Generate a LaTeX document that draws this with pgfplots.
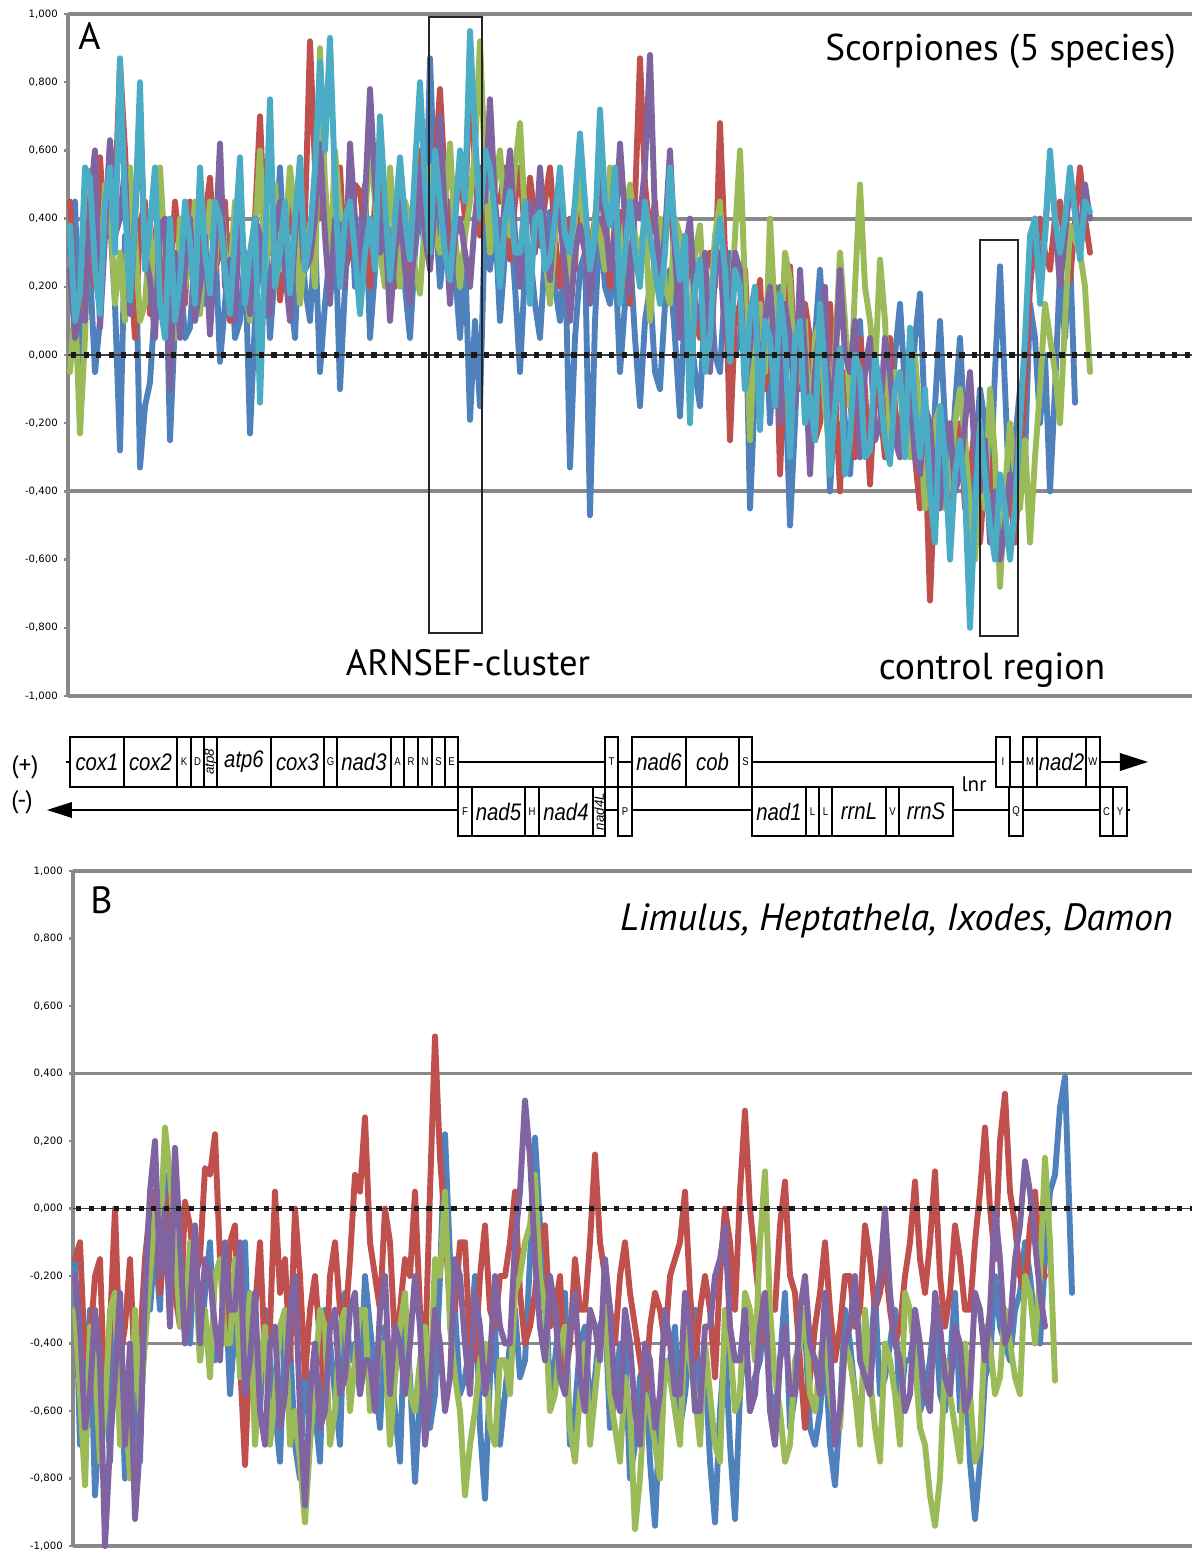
\documentclass[border=0pt]{standalone}
\usepackage{fontspec}
\usepackage{graphicx}
\usepackage{pgfplots}
\usepackage{pgfplotstable}
\pgfplotsset{compat=1.18}
\setmainfont{PT Sans}
\newfontfamily\tickfont{DejaVu Sans}
\newfontfamily\helv{Liberation Sans}

\definecolor{sblue}{HTML}{4F81BD}
\definecolor{sred}{HTML}{C0504D}
\definecolor{sgreen}{HTML}{9BBB59}
\definecolor{spurple}{HTML}{8064A2}
\definecolor{scyan}{HTML}{4BACC6}
\definecolor{gridgray}{HTML}{898989}

% panel A: Scorpiones, x in picture units
\pgfplotstableread{
x b r g p c
70 0.30 0.45 -0.05 0.25 0.38
75 0.45 0.10 0.15 0.05 0.10
80 -0.02 0.15 -0.23 0.12 0.18
85 0.40 0.50 0.05 0.10 0.55
90 0.25 0.35 0.54 0.45 0.52
95 -0.05 0.20 0.30 0.60 0.25
100 0.10 0.58 0.20 0.08 0.12
105 0.45 0.35 0.50 0.35 0.45
110 0.40 0.62 0.45 0.63 0.55
115 0.15 0.45 0.15 0.35 0.30
120 -0.28 0.86 0.30 0.40 0.87
125 0.35 0.60 0.10 0.55 0.45
130 0.20 0.28 0.55 0.12 0.16
135 0.45 0.05 0.35 0.40 0.40
140 -0.33 0.38 0.10 0.70 0.80
145 -0.15 0.45 0.15 0.30 0.25
150 -0.08 0.12 0.36 0.22 0.38
155 0.15 0.35 0.20 0.05 0.55
160 0.30 0.44 0.55 0.38 0.15
165 0.40 0.15 0.30 0.40 0.05
170 -0.25 0.20 0.18 -0.10 0.40
175 0.10 0.45 0.05 0.30 0.10
180 0.25 0.30 0.40 0.05 0.22
185 0.05 0.15 0.20 0.25 0.45
190 0.08 0.45 0.28 0.40 0.33
195 0.30 0.30 0.45 0.10 0.15
200 0.45 0.18 0.12 0.20 0.55
205 0.15 0.40 0.30 0.35 0.30
210 0.20 0.52 0.45 0.06 0.18
215 0.35 0.25 0.25 0.30 0.45
220 -0.02 0.30 0.52 0.62 0.40
225 0.15 0.45 0.30 0.20 0.25
230 0.35 0.10 0.22 0.28 0.12
235 0.05 0.35 0.45 0.10 0.35
240 0.10 0.46 0.40 0.44 0.58
245 0.30 0.20 0.20 0.25 0.15
250 -0.23 0.22 0.10 0.12 0.30
255 0.10 0.40 0.35 0.40 0.40
260 0.30 0.70 0.60 0.35 -0.14
265 0.40 0.35 0.25 0.20 0.30
270 0.05 0.30 0.35 0.12 0.75
275 0.25 0.45 0.50 0.35 0.20
280 0.55 0.16 0.25 0.45 0.30
285 0.25 0.30 0.35 0.25 0.45
290 0.20 0.45 0.55 0.10 0.18
295 0.05 0.30 0.40 0.35 0.40
300 0.40 0.20 0.15 0.55 0.58
305 0.20 0.40 0.30 0.25 0.25
310 0.10 0.92 0.38 0.28 0.35
315 0.35 0.55 0.20 0.40 0.55
320 -0.05 0.40 0.90 0.62 0.86
325 0.15 0.50 0.50 0.35 0.60
330 0.30 0.22 0.25 0.15 0.93
335 0.40 0.40 0.60 0.40 0.50
340 -0.10 0.55 0.42 0.38 0.20
345 0.20 0.25 0.25 0.20 0.40
350 0.55 0.30 0.58 0.62 0.45
355 0.20 0.50 0.35 0.40 0.30
360 0.35 0.48 0.14 0.20 0.12
365 0.50 0.35 0.40 0.45 0.30
370 0.05 0.20 0.62 0.78 0.40
375 0.25 0.45 0.45 0.50 0.25
380 0.50 0.62 0.30 0.30 0.70
385 0.30 0.40 0.20 0.40 0.45
390 0.18 0.35 0.55 0.10 0.22
395 0.40 0.20 0.35 0.30 0.40
400 0.42 0.50 0.20 0.45 0.58
405 0.20 0.35 0.45 0.25 0.40
410 0.05 0.22 0.40 0.15 0.28
415 0.30 0.40 0.25 0.35 0.55
420 0.45 0.60 0.18 0.55 0.80
425 0.30 0.35 0.40 0.35 0.50
430 0.87 0.40 0.55 0.25 0.30
435 0.45 0.55 0.35 0.45 0.60
440 0.20 0.78 0.30 0.70 0.45
445 0.35 0.50 0.45 0.40 0.30
450 0.45 0.25 0.62 0.15 0.22
455 0.25 0.40 0.35 0.35 0.40
460 0.05 0.55 0.20 0.40 0.60
465 0.30 0.40 0.35 0.30 0.45
470 -0.19 0.85 0.45 0.20 0.95
475 0.10 0.55 0.60 0.40 0.65
480 -0.15 0.35 0.92 0.55 0.40
485 0.40 0.50 0.55 0.45 0.60
490 0.25 0.65 0.30 0.75 0.55
495 0.40 0.45 0.50 0.45 0.40
500 0.10 0.45 0.60 0.30 0.20
505 0.30 0.55 0.40 0.45 0.40
510 0.40 0.28 0.35 0.60 0.48
515 0.20 0.45 0.55 0.35 0.30
520 -0.05 0.55 0.68 0.20 0.30
525 0.25 0.35 0.40 0.40 0.45
530 0.30 0.52 0.20 0.45 0.15
535 0.15 0.40 0.40 0.30 0.40
540 0.05 0.32 0.45 0.55 0.42
545 0.30 0.45 0.30 0.35 0.25
550 0.42 0.55 0.15 0.22 0.28
555 0.20 0.35 0.35 0.45 0.40
560 0.10 0.20 0.48 0.40 0.55
565 0.30 0.35 0.30 0.25 0.35
570 -0.33 0.40 0.22 0.10 0.30
575 0.05 0.25 0.40 0.30 0.45
580 0.25 0.62 0.52 0.38 0.65
585 0.30 0.40 0.30 0.30 0.45
590 -0.47 0.30 0.18 0.15 0.25
595 0.10 0.40 0.40 0.35 0.35
600 0.40 0.55 0.35 0.55 0.72
605 0.20 0.35 0.25 0.40 0.45
610 0.15 0.20 0.55 0.25 0.38
615 0.30 0.40 0.35 0.35 0.55
620 -0.05 0.42 0.25 0.62 0.15
625 0.15 0.30 0.40 0.40 0.30
630 0.30 0.15 0.50 0.18 0.45
635 0.05 0.45 0.35 0.45 0.30
640 -0.15 0.87 0.30 0.40 0.20
645 0.10 0.50 0.40 0.55 0.45
650 0.20 0.35 0.10 0.88 0.35
655 -0.05 0.45 0.30 0.40 0.25
660 -0.10 0.20 0.40 0.22 0.15
665 0.15 0.35 0.20 0.35 0.30
670 0.25 0.48 0.15 0.60 0.55
675 0.05 0.25 0.40 0.30 0.35
680 -0.18 0.10 0.35 0.05 0.22
685 0.15 0.35 0.15 0.30 0.35
690 0.10 0.32 0.05 0.40 -0.20
695 -0.05 0.10 0.30 0.15 0.20
700 -0.15 0.05 0.38 0.10 0.28
705 0.15 0.25 0.10 0.30 -0.05
710 0.22 0.30 0.12 -0.05 0.05
715 0.00 0.20 0.35 0.25 0.30
720 -0.05 0.68 0.45 0.30 0.40
725 0.20 0.30 0.15 0.05 0.25
730 0.30 -0.25 0.08 0.12 -0.02
735 0.00 0.10 0.35 0.30 0.25
740 0.05 0.15 0.60 0.25 0.20
745 0.25 0.25 0.20 -0.10 -0.10
750 -0.45 -0.05 -0.25 0.02 0.12
755 -0.10 0.10 0.10 0.20 0.20
760 0.05 0.22 0.15 -0.15 -0.22
765 0.15 -0.10 -0.05 0.10 0.10
770 -0.20 0.00 0.40 0.20 0.05
775 0.05 0.20 0.10 0.00 -0.15
780 0.20 -0.35 -0.05 -0.20 0.18
785 -0.05 0.00 0.30 0.15 0.05
790 -0.50 0.26 0.22 0.05 -0.30
795 -0.20 0.00 -0.10 -0.15 0.05
800 0.15 -0.10 -0.05 0.25 0.10
805 -0.05 0.15 0.10 0.00 -0.20
810 -0.22 0.05 -0.28 -0.35 -0.12
815 0.05 -0.25 0.05 -0.05 -0.25
820 0.25 -0.20 0.10 0.08 0.15
825 0.00 0.05 -0.15 0.20 -0.05
830 -0.40 0.15 -0.30 -0.25 -0.35
835 -0.15 -0.10 0.00 -0.05 -0.15
840 0.00 -0.40 0.30 0.25 0.02
845 -0.20 -0.05 0.10 0.00 -0.35
850 -0.35 -0.12 -0.15 -0.05 -0.25
855 -0.10 -0.30 0.20 0.10 0.00
860 0.10 0.05 0.50 -0.30 -0.05
865 -0.20 -0.10 0.20 -0.05 -0.30
870 -0.30 -0.38 0.10 0.05 -0.28
875 -0.10 -0.10 -0.05 -0.25 0.00
880 -0.05 -0.15 0.28 -0.20 -0.10
885 -0.30 -0.30 0.10 0.05 -0.25
890 -0.25 0.05 -0.25 -0.05 -0.32
895 0.00 -0.15 -0.05 -0.25 -0.10
900 0.15 -0.30 -0.10 -0.30 -0.05
905 -0.10 -0.05 -0.25 -0.05 -0.30
910 -0.20 -0.10 -0.30 -0.12 0.08
915 0.05 -0.30 0.00 -0.30 -0.15
920 0.18 -0.45 -0.20 -0.35 -0.30
925 -0.20 -0.25 -0.45 -0.15 -0.10
930 -0.55 -0.72 -0.40 -0.20 -0.40
935 -0.15 -0.35 -0.20 -0.40 -0.55
940 0.10 -0.25 -0.15 -0.45 -0.15
945 -0.20 -0.40 -0.45 -0.25 -0.30
950 -0.40 -0.50 -0.35 -0.20 -0.60
955 -0.15 -0.30 -0.20 -0.40 -0.35
960 0.05 -0.20 -0.10 -0.35 -0.25
965 -0.25 -0.45 -0.25 -0.20 -0.40
970 -0.60 -0.35 -0.45 -0.05 -0.80
975 -0.30 -0.20 -0.60 -0.30 -0.45
980 -0.10 -0.55 -0.30 -0.40 -0.20
985 -0.20 -0.35 -0.45 -0.25 -0.35
990 -0.40 -0.30 -0.10 -0.55 -0.50
995 -0.05 -0.45 -0.30 -0.40 -0.60
1000 0.26 -0.62 -0.68 -0.60 -0.35
1005 -0.10 -0.50 -0.40 -0.50 -0.45
1010 -0.45 -0.40 -0.20 -0.35 -0.60
1015 -0.25 -0.55 -0.35 -0.40 -0.45
1020 -0.10 -0.30 -0.45 -0.15 -0.20
1025 -0.30 -0.10 -0.25 0.00 0.05
1030 0.15 0.20 -0.55 0.30 0.35
1035 0.05 0.35 -0.30 0.40 0.40
1040 -0.20 0.40 -0.10 0.25 0.15
1045 0.00 0.30 0.15 0.35 0.35
1050 -0.40 0.25 0.05 0.58 0.60
1055 -0.10 0.40 -0.05 0.40 0.40
1060 0.25 0.45 -0.20 0.20 0.30
1065 0.05 0.30 0.10 0.35 0.40
1070 0.30 0.22 0.38 0.50 0.55
1075 -0.14 nan nan nan nan
1080 nan 0.55 0.30 0.35 0.28
1085 nan 0.40 0.20 0.50 0.45
1090 nan 0.30 -0.05 0.40 0.42
}\scorp

% panel B: Limulus, Heptathela, Ixodes, Damon
\pgfplotstableread{
x b r g p
75 -0.15 -0.15 -0.30 -0.20
80 -0.70 -0.10 -0.55 -0.35
85 -0.55 -0.45 -0.82 -0.65
90 -0.30 -0.40 -0.35 -0.55
95 -0.85 -0.20 -0.45 -0.30
100 -0.60 -0.15 -0.75 -0.45
105 -0.40 -0.60 -0.60 -1.00
110 -0.75 -0.35 -0.30 -0.70
115 -0.30 0.00 -0.25 -0.50
120 -0.35 -0.45 -0.70 -0.25
125 -0.80 -0.35 -0.55 -0.70
130 -0.70 -0.15 -0.80 -0.40
135 -0.55 -0.50 -0.30 -0.92
140 -0.75 -0.40 -0.60 -0.70
145 -0.25 -0.15 -0.40 -0.25
150 -0.30 0.00 -0.20 0.05
155 -0.10 0.05 0.00 0.20
160 -0.30 -0.25 -0.10 -0.20
165 0.10 -0.10 0.24 0.00
170 -0.20 0.05 0.10 -0.35
175 -0.15 -0.25 -0.10 0.18
180 0.00 -0.35 -0.35 -0.10
185 -0.30 0.02 -0.35 -0.40
190 -0.40 -0.05 -0.10 -0.30
195 -0.10 -0.20 -0.15 -0.05
200 -0.45 -0.15 -0.45 -0.40
205 -0.25 0.12 -0.30 -0.15
210 -0.10 0.10 -0.50 -0.20
215 -0.45 0.22 -0.20 -0.35
220 -0.40 -0.15 -0.15 -0.45
225 -0.20 -0.35 -0.40 -0.10
230 -0.55 -0.10 -0.40 -0.30
235 -0.35 -0.05 -0.15 -0.30
240 -0.15 -0.45 -0.50 -0.10
245 -0.10 -0.76 -0.45 -0.55
250 -0.55 -0.40 -0.25 -0.45
255 -0.50 -0.30 -0.70 -0.25
260 -0.60 -0.10 -0.50 -0.60
265 -0.30 -0.45 -0.35 -0.70
270 -0.45 -0.35 -0.70 -0.40
275 -0.60 0.05 -0.55 -0.35
280 -0.75 -0.25 -0.35 -0.65
285 -0.35 -0.15 -0.30 -0.55
290 -0.40 -0.45 -0.70 -0.30
295 -0.70 0.00 -0.60 -0.20
300 -0.80 -0.20 -0.75 -0.60
305 -0.45 -0.50 -0.93 -0.88
310 -0.65 -0.30 -0.70 -0.55
315 -0.60 -0.20 -0.50 -0.40
320 -0.75 -0.40 -0.30 -0.65
325 -0.30 -0.55 -0.35 -0.60
330 -0.40 -0.20 -0.70 -0.35
335 -0.55 -0.10 -0.60 -0.30
340 -0.70 -0.30 -0.35 -0.55
345 -0.25 -0.35 -0.30 -0.50
350 -0.45 -0.15 -0.60 -0.30
355 -0.40 0.10 -0.45 -0.25
360 -0.55 0.05 -0.30 -0.55
365 -0.20 0.27 -0.30 -0.45
370 -0.35 -0.10 -0.60 -0.45
375 -0.50 -0.20 -0.55 -0.60
380 -0.65 -0.30 -0.40 -0.30
385 -0.35 0.00 -0.40 -0.20
390 -0.45 -0.10 -0.70 -0.55
395 -0.60 -0.40 -0.50 -0.35
400 -0.75 -0.30 -0.35 -0.40
405 -0.30 -0.15 -0.25 -0.55
410 -0.50 -0.20 -0.55 -0.40
415 -0.81 0.05 -0.60 -0.20
420 -0.55 -0.30 -0.45 -0.35
425 -0.40 -0.45 -0.35 -0.70
430 -0.65 0.05 -0.55 -0.55
435 -0.55 0.51 -0.15 -0.30
440 -0.20 0.15 -0.20 -0.40
445 0.22 -0.05 0.05 -0.60
450 -0.15 -0.30 -0.35 -0.50
455 -0.30 -0.30 -0.50 -0.15
460 -0.55 -0.10 -0.60 -0.20
465 -0.50 -0.10 -0.85 -0.40
470 -0.40 -0.40 -0.70 -0.55
475 -0.20 -0.45 -0.60 -0.25
480 -0.65 -0.20 -0.45 -0.35
485 -0.86 -0.05 -0.40 -0.55
490 -0.50 -0.30 -0.65 -0.45
495 -0.35 -0.35 -0.70 -0.20
500 -0.70 -0.20 -0.45 -0.35
505 -0.55 -0.20 -0.45 -0.40
510 -0.40 -0.10 -0.55 -0.40
515 -0.30 0.05 -0.25 -0.10
520 -0.50 -0.25 -0.20 0.05
525 -0.45 -0.40 -0.10 0.32
530 -0.15 -0.35 -0.05 0.15
535 0.21 -0.25 0.10 -0.15
540 -0.05 -0.10 -0.20 -0.35
545 -0.20 -0.05 -0.30 -0.45
550 -0.55 -0.35 -0.60 -0.20
555 -0.45 -0.30 -0.55 -0.30
560 -0.30 -0.20 -0.40 -0.50
565 -0.25 -0.50 -0.35 -0.55
570 -0.70 -0.40 -0.65 -0.35
575 -0.60 -0.15 -0.75 -0.25
580 -0.40 -0.30 -0.55 -0.50
585 -0.35 -0.30 -0.40 -0.60
590 -0.60 -0.10 -0.70 -0.30
595 -0.50 0.16 -0.55 -0.35
600 -0.35 -0.10 -0.40 -0.45
605 -0.30 -0.20 -0.30 -0.15
610 -0.65 -0.30 -0.55 -0.30
615 -0.55 -0.40 -0.65 -0.55
620 -0.40 -0.20 -0.75 -0.60
625 -0.40 -0.10 -0.50 -0.30
630 -0.80 -0.25 -0.60 -0.40
635 -0.70 -0.35 -0.95 -0.60
640 -0.50 -0.45 -0.80 -0.70
645 -0.45 -0.55 -0.55 -0.40
650 -0.75 -0.35 -0.60 -0.45
655 -0.94 -0.25 -0.70 -0.65
660 -0.60 -0.30 -0.80 -0.55
665 -0.50 -0.40 -0.45 -0.30
670 -0.45 -0.20 -0.50 -0.40
675 -0.35 -0.15 -0.60 -0.55
680 -0.65 -0.10 -0.70 -0.55
685 -0.55 0.05 -0.35 -0.25
690 -0.40 -0.25 -0.45 -0.35
695 -0.30 -0.45 -0.55 -0.60
700 -0.60 -0.30 -0.70 -0.60
705 -0.45 -0.20 -0.40 -0.35
710 -0.75 -0.30 -0.55 -0.35
715 -0.93 -0.50 -0.70 -0.20
720 -0.60 -0.20 -0.75 -0.15
725 -0.40 0.00 -0.30 -0.05
730 -0.70 -0.10 -0.40 -0.35
735 -0.92 -0.30 -0.60 -0.45
740 -0.55 0.05 -0.55 -0.45
745 -0.35 0.29 -0.25 -0.30
750 -0.60 0.00 -0.30 -0.60
755 -0.50 -0.15 -0.45 -0.55
760 -0.45 -0.30 -0.10 -0.35
765 -0.30 -0.40 0.11 -0.25
770 -0.55 -0.30 -0.30 -0.60
775 -0.60 -0.30 -0.50 -0.70
780 -0.45 -0.05 -0.60 -0.45
785 -0.25 0.08 -0.75 -0.35
790 -0.65 -0.20 -0.70 -0.55
795 -0.55 -0.25 -0.45 -0.55
800 -0.40 -0.45 -0.40 -0.30
805 -0.35 -0.65 -0.30 -0.20
810 -0.65 -0.50 -0.55 -0.40
815 -0.70 -0.35 -0.60 -0.45
820 -0.60 -0.25 -0.45 -0.55
825 -0.40 -0.10 -0.35 -0.25
830 -0.70 -0.30 -0.55 -0.40
835 -0.82 -0.45 -0.65 -0.70
840 -0.60 -0.35 -0.65 -0.60
845 -0.30 -0.20 -0.40 -0.40
850 -0.40 -0.20 -0.45 -0.35
855 -0.55 -0.35 -0.55 -0.20
860 -0.65 -0.30 -0.70 -0.45
865 -0.40 -0.05 -0.30 -0.50
870 -0.45 -0.15 -0.50 -0.55
875 -0.25 -0.30 -0.65 -0.30
880 -0.55 -0.25 -0.75 -0.20
885 -0.50 -0.15 -0.40 0.00
890 -0.40 -0.30 -0.45 -0.25
895 -0.30 -0.40 -0.55 -0.40
900 -0.60 -0.35 -0.70 -0.45
905 -0.45 -0.20 -0.25 -0.60
910 -0.45 -0.10 -0.30 -0.55
915 -0.35 0.08 -0.45 -0.30
920 -0.60 -0.15 -0.65 -0.40
925 -0.55 -0.25 -0.70 -0.55
930 -0.45 -0.10 -0.85 -0.60
935 -0.30 0.11 -0.94 -0.25
940 -0.55 -0.20 -0.80 -0.35
945 -0.60 -0.35 -0.45 -0.50
950 -0.45 -0.25 -0.55 -0.55
955 -0.25 -0.05 -0.65 -0.35
960 -0.60 -0.15 -0.75 -0.40
965 -0.45 -0.30 -0.40 -0.60
970 -0.75 -0.30 -0.55 -0.55
975 -0.92 -0.10 -0.75 -0.25
980 -0.75 0.05 -0.70 -0.30
985 -0.50 0.24 -0.35 -0.45
990 -0.45 0.00 -0.40 -0.30
995 -0.20 -0.15 -0.55 0.00
1000 -0.35 0.20 -0.50 -0.15
1005 -0.40 0.34 -0.30 -0.40
1010 -0.45 0.05 -0.40 -0.35
1015 -0.30 -0.05 -0.50 -0.15
1020 -0.25 -0.20 -0.55 -0.05
1025 -0.10 -0.25 -0.20 0.14
1030 -0.20 -0.05 -0.25 0.05
1035 -0.35 0.05 -0.40 -0.10
1040 -0.40 -0.15 -0.20 -0.25
1045 -0.15 -0.20 0.15 -0.35
1050 0.05 nan -0.10 nan
1055 0.10 nan -0.51 nan
1060 0.30 nan nan nan
1065 0.39 nan nan nan
1072 -0.25 nan nan nan
}\others

\pgfplotsset{
  panel/.style={
    scale only axis, clip=false,
    xmax=1192, ymin=-1, ymax=1,
    axis line style={draw=none},
    xtick=\empty,
    ytick={-1,-0.8,-0.6,-0.4,-0.2,0,0.2,0.4,0.6,0.8,1},
    yticklabels={{-1,000},{-0,800},{-0,600},{-0,400},{-0,200},{0,000},{0,200},{0,400},{0,600},{0,800},{1,000}},
    ytick pos=left, tick align=outside,
    major tick length=1mm,
    tick style={gridgray, line width=1.8pt},
    yticklabel style={font=\tickfont\fontsize{7.2}{7.5}\selectfont, inner sep=0pt, xshift=-1.5mm},
  },
  ser/.style={line width=4.2pt, line join=round, line cap=round, #1},
}
\tikzset{grid line/.style={gridgray, line width=2.8pt}}

\newcommand\gbig[1]{{\helv\itshape\fontsize{17}{17}\selectfont\scalebox{0.85}[1]{#1}}}
\newcommand\gsm[1]{{\helv\fontsize{8}{8}\selectfont\scalebox{0.85}[1]{#1}}}
\newcommand\grot[1]{\rotatebox{90}{\helv\itshape\fontsize{9.5}{9.5}\selectfont #1}}
\newcommand\gene[5]{\draw[line width=1.4pt, fill=white] (#1,#3) rectangle (#2,#4);
  \node[inner sep=0pt] at ({(#1+#2)/2},{(#3+#4)/2}) {#5};}

\begin{document}
\begin{tikzpicture}
\path[use as bounding box] (0,0) rectangle (298mm,-387.75mm);

% ---------- panel A ----------
\begin{axis}[panel, at={(17mm,-174mm)}, anchor=south west,
  width=281mm, height=170.5mm, xmin=68]
\draw[grid line] (axis cs:68,1) -- (axis cs:1192,1);
\draw[grid line] (axis cs:68,0.4) -- (axis cs:1192,0.4);
\draw[grid line] (axis cs:68,-0.4) -- (axis cs:1192,-0.4);
\draw[grid line] (axis cs:68,-1) -- (axis cs:1192,-1);
\draw[grid line] (axis cs:68,-1) -- (axis cs:68,1);

\addplot[ser=sblue] table[x=x, y=b] {\scorp};
\addplot[ser=sred] table[x=x, y=r] {\scorp};
\addplot[ser=sgreen] table[x=x, y=g] {\scorp};
\addplot[ser=spurple] table[x=x, y=p] {\scorp};
\addplot[ser=scyan] table[x=x, y=c] {\scorp};

\draw[black!75, line width=1pt] (axis cs:68,0) -- (axis cs:1192,0);
\draw[black!90, line width=3.8pt, dash pattern=on 3.8pt off 5.1pt] (axis cs:71,0) -- (axis cs:1192,0);

\draw[black!85, line width=1.8pt] (axis cs:429,0.991) rectangle (axis cs:482,-0.815);
\draw[black!85, line width=1.8pt] (axis cs:980,0.337) rectangle (axis cs:1018,-0.824);

\node[anchor=base west, inner sep=0pt, font=\fontsize{27}{27}\selectfont] at (axis cs:78,0.897) {A};
\node[anchor=base east, inner sep=0pt, font=\fontsize{26.5}{26.5}\selectfont] at (axis cs:1176,0.865) {Scorpiones (5 species)};
\node[anchor=base, inner sep=0pt, font=\fontsize{26}{26}\selectfont] at (axis cs:468,-0.941) {ARNSEF-cluster};
\node[anchor=base, inner sep=0pt, font=\fontsize{26.8}{26.8}\selectfont] at (axis cs:992,-0.953) {control region};
\end{axis}

% ---------- gene map ----------
\begin{scope}[x=0.25mm, y=-0.25mm]
\draw[line width=1.7pt] (66,762) -- (1122,762);
\fill (1120,753) -- (1148,762) -- (1120,771) -- cycle;
\draw[line width=1.7pt] (70,810) -- (1130,810);
\fill (72,802) -- (47,810) -- (72,818) -- cycle;

\gene{70}{124}{737}{787}{\gbig{cox1}}
\gene{124}{177}{737}{787}{\gbig{cox2}}
\gene{177}{191}{737}{787}{\gsm{K}}
\gene{191}{204}{737}{787}{\gsm{D}}
\gene{204}{217}{737}{787}{\grot{atp8}}
\gene{217}{271}{737}{787}{\gbig{atp6}}
\gene{271}{324}{737}{787}{\gbig{cox3}}
\gene{324}{337}{737}{787}{\gsm{G}}
\gene{337}{391}{737}{787}{\gbig{nad3}}
\gene{391}{404}{737}{787}{\gsm{A}}
\gene{404}{418}{737}{787}{\gsm{R}}
\gene{418}{432}{737}{787}{\gsm{N}}
\gene{432}{445}{737}{787}{\gsm{S}}
\gene{445}{458}{737}{787}{\gsm{E}}
\gene{605}{618}{737}{787}{\gsm{T}}
\gene{632}{686}{737}{787}{\gbig{nad6}}
\gene{686}{739}{737}{787}{\gbig{cob}}
\gene{739}{752}{737}{787}{\gsm{S}}
\gene{996}{1010}{737}{787}{\gsm{I}}
\gene{1023}{1037}{737}{787}{\gsm{M}}
\gene{1037}{1086}{737}{787}{\gbig{nad2}}
\gene{1086}{1100}{737}{787}{\gsm{W}}

\gene{458}{472}{787}{836}{\gsm{F}}
\gene{472}{525}{787}{836}{\gbig{nad5}}
\gene{525}{539}{787}{836}{\gsm{H}}
\gene{539}{593}{787}{836}{\gbig{nad4}}
\gene{593}{605}{787}{836}{\grot{nad4L}}
\gene{618}{632}{787}{836}{\gsm{P}}
\gene{752}{806}{787}{836}{\gbig{nad1}}
\gene{806}{819}{787}{836}{\gsm{L}}
\gene{819}{832}{787}{836}{\gsm{L}}
\gene{832}{886}{787}{836}{\gbig{rrnL}}
\gene{886}{899}{787}{836}{\gsm{V}}
\gene{899}{953}{787}{836}{\gbig{rrnS}}
\gene{1009}{1023}{787}{836}{\gsm{Q}}
\gene{1100}{1113}{787}{836}{\gsm{C}}
\gene{1113}{1127}{787}{836}{\gsm{Y}}

\node[font=\fontsize{18}{18}\selectfont] at (25,767) {(+)};
\node[font=\fontsize{18}{18}\selectfont] at (22,802) {(-)};
\node[font=\fontsize{15}{15}\selectfont] at (974,784) {lnr};
\end{scope}

% ---------- panel B ----------
\begin{axis}[panel, at={(18.25mm,-386.5mm)}, anchor=south west,
  width=279.75mm, height=168.75mm, xmin=73]
\draw[grid line] (axis cs:73,1) -- (axis cs:1192,1);
\draw[grid line] (axis cs:73,0.4) -- (axis cs:1192,0.4);
\draw[grid line] (axis cs:73,-0.4) -- (axis cs:1192,-0.4);
\draw[grid line] (axis cs:73,-1) -- (axis cs:1192,-1);
\draw[grid line] (axis cs:73,-1) -- (axis cs:73,1);

\addplot[ser=sblue] table[x=x, y=b] {\others};
\addplot[ser=sred] table[x=x, y=r] {\others};
\addplot[ser=sgreen] table[x=x, y=g] {\others};
\addplot[ser=spurple] table[x=x, y=p] {\others};

\draw[black!75, line width=1pt] (axis cs:73,0) -- (axis cs:1192,0);
\draw[black!90, line width=3.8pt, dash pattern=on 3.8pt off 5.1pt] (axis cs:76,0) -- (axis cs:1192,0);

\node[anchor=base west, inner sep=0pt, font=\fontsize{27}{27}\selectfont] at (axis cs:90,0.873) {B};
\node[anchor=base east, inner sep=0pt, font=\itshape\fontsize{27}{27}\selectfont] at (axis cs:1173,0.825) {Limulus, Heptathela, Ixodes, Damon};
\end{axis}
\end{tikzpicture}
\end{document}
